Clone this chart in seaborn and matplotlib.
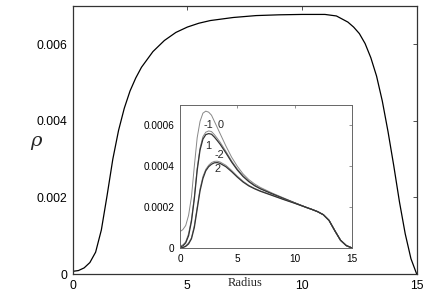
import numpy as np
import pandas as pd
import seaborn as sns
import matplotlib
matplotlib.use("Agg")
import matplotlib.pyplot as plt

# main density profile
r_main = [0.0, 0.25, 0.5, 0.75, 1.0, 1.25, 1.5, 1.75, 2.0, 2.25, 2.5, 2.75, 3.0,
          3.5, 4.0, 4.5, 5.0, 5.5, 6.0, 7.0, 8.0, 9.0, 10.0, 11.0, 11.5, 12.0,
          12.25, 12.5, 12.75, 13.0, 13.25, 13.5, 13.75, 14.0, 14.25, 14.5, 14.75, 15.0]
rho_main = [0.00007, 0.00009, 0.00016, 0.0003, 0.00057, 0.00115, 0.00205, 0.003,
            0.00375, 0.00433, 0.00478, 0.00512, 0.0054, 0.00581, 0.0061, 0.00631,
            0.00645, 0.00655, 0.00662, 0.0067, 0.00675, 0.00677, 0.00678, 0.00678,
            0.00674, 0.00658, 0.00645, 0.00628, 0.00602, 0.00565, 0.00517, 0.00452,
            0.00372, 0.00283, 0.00188, 0.00105, 0.0004, 0.0]

# inset profiles
r_in = [0.0, 0.25, 0.5, 0.75, 1.0, 1.25, 1.5, 1.75, 2.0, 2.25, 2.5, 2.75, 3.0, 3.25,
        3.5, 4.0, 4.5, 5.0, 5.5, 6.0, 6.5, 7.0, 8.0, 9.0, 10.0, 11.0, 11.5, 12.0, 12.5,
        13.0, 13.5, 14.0, 14.5, 15.0]
tail = [0.000199, 0.000189, 0.000178, 0.000163, 0.000135, 0.000085, 0.000038, 0.000012, 0.0]
rho_0 = [0.00008, 0.00009, 0.00011, 0.00016, 0.00025, 0.0004, 0.00054, 0.00062, 0.00066,
         0.00067, 0.000665, 0.00065, 0.00062, 0.00059, 0.00056, 0.0005, 0.000445, 0.0004,
         0.000363, 0.000335, 0.000314, 0.000297, 0.00027, 0.000246, 0.000222] + tail
rho_m1 = [0.00001, 0.000015, 0.00003, 0.00007, 0.00014, 0.00025, 0.00039, 0.00049, 0.000545,
          0.000567, 0.000573, 0.00057, 0.000555, 0.000537, 0.000518, 0.000474, 0.000427,
          0.000387, 0.000354, 0.000328, 0.000308, 0.000292, 0.000267, 0.000244, 0.000221] + tail
rho_1 = [0.000005, 0.00001, 0.000025, 0.00006, 0.00013, 0.00024, 0.00038, 0.00048, 0.000533,
         0.000555, 0.00056, 0.000557, 0.000543, 0.000526, 0.000508, 0.000466, 0.000421,
         0.000382, 0.00035, 0.000325, 0.000305, 0.00029, 0.000266, 0.000243, 0.000221] + tail
rho_m2 = [0.0, 0.000003, 0.00001, 0.000025, 0.00005, 0.00011, 0.0002, 0.00029, 0.00035,
          0.000385, 0.000405, 0.000418, 0.000424, 0.000425, 0.000421, 0.000405, 0.00038,
          0.000352, 0.000327, 0.000307, 0.000292, 0.00028, 0.00026, 0.000239, 0.00022] + tail
rho_2 = [0.0, 0.000002, 0.000008, 0.00002, 0.000045, 0.0001, 0.00019, 0.00028, 0.00034,
         0.000378, 0.000398, 0.00041, 0.000417, 0.000418, 0.000414, 0.000398, 0.000374,
         0.000347, 0.000323, 0.000304, 0.00029, 0.000278, 0.000258, 0.000238, 0.000219] + tail

curve_names = ["0", "-1", "1", "-2", "2"]
curve_vals = [rho_0, rho_m1, rho_1, rho_m2, rho_2]
curve_color = ["#888888", "#888888", "#333333", "#888888", "#333333"]
curve_lw = [0.7, 0.7, 0.9, 0.7, 0.9]
label_pos = {"-1": (2.44, 0.0006), "0": (3.57, 0.0006), "1": (2.44, 0.0005),
             "-2": (3.40, 0.000457), "2": (3.23, 0.000388)}

sns.set_style("white")
plt.rcParams["font.family"] = ["Liberation Sans", "DejaVu Sans"]
plt.rcParams["mathtext.fontset"] = "dejavuserif"

fig = plt.figure(figsize=(4.36, 3.05), dpi=100)
ax = fig.add_axes([0.1667, 0.1016, 0.789, 0.8787])

main_df = pd.DataFrame({"r": r_main, "rho": rho_main})
sns.lineplot(data=main_df, x="r", y="rho", ax=ax, color="black", lw=0.9, estimator=None)
ax.set_xlim(0, 15)
ax.set_ylim(0, 0.007)
ax.set_xticks([0, 5, 10, 15], ["0", "5", "10", "15"])
ax.set_yticks([0, 0.002, 0.004, 0.006], ["0", "0.002", "0.004", "0.006"])
ax.tick_params(direction="in", length=3, width=0.6, labelsize=8.8, pad=4,
               top=True, right=True, colors="#333333", labelcolor="black")
for s in ax.spines.values():
    s.set_color("#333333")
    s.set_linewidth(0.9)
ax.set_xlabel("Radius", family="Liberation Serif", fontsize=9, va="center")
ax.xaxis.set_label_coords(0.5, -0.034)
ax.set_ylabel(r"$\rho$", fontsize=14, rotation=0, va="center", ha="center")
ax.yaxis.set_label_coords(-0.105, 0.49)

# inset
ax_in = fig.add_axes([0.4128, 0.1869, 0.3945, 0.4688])
for name, vals, c, lw in zip(curve_names, curve_vals, curve_color, curve_lw):
    df = pd.DataFrame({"r": r_in, "rho": vals})
    sns.lineplot(data=df, x="r", y="rho", ax=ax_in, color=c, lw=lw, estimator=None)
    tx, ty = label_pos[name]
    ax_in.text(tx, ty, name, fontsize=7.8, ha="center", va="center")
ax_in.set_xlim(0, 15)
ax_in.set_ylim(0, 0.0007)
ax_in.set_xticks([0, 5, 10, 15], ["0", "5", "10", "15"])
ax_in.set_yticks([0, 0.0002, 0.0004, 0.0006], ["0", "0.0002", "0.0004", "0.0006"])
ax_in.tick_params(direction="in", length=2.5, width=0.5, labelsize=7.2, pad=4,
                  top=True, right=True, colors="#666666", labelcolor="black")
ax_in.set_xlabel("")
ax_in.set_ylabel("")
for s in ax_in.spines.values():
    s.set_color("#666666")
    s.set_linewidth(0.7)

fig.savefig("out.png", dpi=100)
